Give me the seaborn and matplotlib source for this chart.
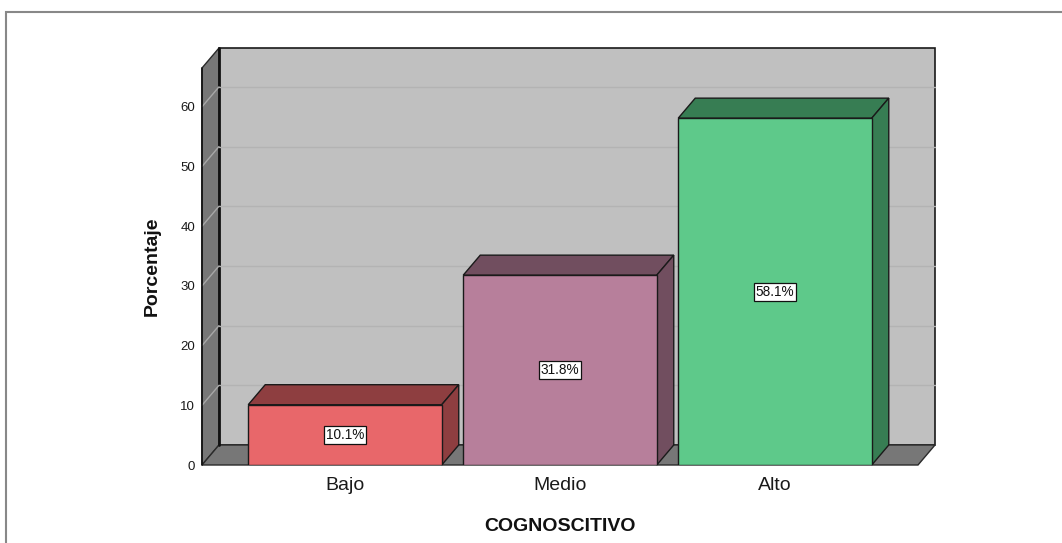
import matplotlib
matplotlib.use("Agg")
import matplotlib.pyplot as plt
import seaborn as sns
from matplotlib.patches import Polygon, Rectangle

# Data
categories = ["Bajo", "Medio", "Alto"]
percentages = [10.1, 31.8, 58.1]
bar_labels = ["10.1%", "31.8%", "58.1%"]
yticks = [0, 10, 20, 30, 40, 50, 60]

front_colors = ["#e8676a", "#b77f9b", "#5ec98a"]
dark_colors = ["#8e3e40", "#714e5f", "#377d53"]

sns.set_style("white")
plt.rcParams["font.family"] = ["Liberation Sans", "DejaVu Sans"]

fig = plt.figure(figsize=(10.62, 5.43), dpi=100)
W, H = 1062, 543
# front plane of the chart in pixels
left, right, bottom, top = 202, 918, 465, 68
ax = fig.add_axes([left / W, 1 - bottom / H, (right - left) / W, (bottom - top) / H])

xmin, xmax = -0.665, 2.665
ymin, ymax = 0, 66.5
dx = 17 / ((right - left) / (xmax - xmin))
dy = 20 / ((bottom - top) / (ymax - ymin))

# bars (front faces)
sns.barplot(x=categories, y=percentages, hue=categories, palette=front_colors,
            width=0.9, edgecolor="#1a1a1a", linewidth=1.0, legend=False, saturation=1, ax=ax)
bars = sorted([p for p in ax.patches if isinstance(p, Rectangle)], key=lambda r: r.get_x())

ax.set_xlim(xmin, xmax)
ax.set_ylim(ymin, ymax)
ax.patch.set_visible(False)
for s in ax.spines.values():
    s.set_visible(False)

# walls
back = Polygon([(xmin + dx, dy), (xmax + dx, dy), (xmax + dx, ymax + dy), (xmin + dx, ymax + dy)],
               closed=True, facecolor="#c0c0c0", edgecolor="#1a1a1a", lw=1.2, zorder=0.2, clip_on=False)
side = Polygon([(xmin, 0), (xmin + dx, dy), (xmin + dx, ymax + dy), (xmin, ymax)],
               closed=True, facecolor="#777777", edgecolor="#2a2a2a", lw=1.0, zorder=0.3, clip_on=False)
floor = Polygon([(xmin, 0), (xmax, 0), (xmax + dx, dy), (xmin + dx, dy)],
                closed=True, facecolor="#777777", edgecolor="#2a2a2a", lw=1.0, zorder=0.3, clip_on=False)
for p in (back, side, floor):
    ax.add_patch(p)
ax.plot([xmin + dx, xmin + dx], [dy, ymax + dy], color="#111111", lw=2, zorder=0.35, clip_on=False)

# gridlines
for v in yticks[1:]:
    ax.plot([xmin + dx, xmax + dx], [v + dy, v + dy], color="#b3b3b3", lw=1, zorder=0.4, clip_on=False)
    ax.plot([xmin, xmin + dx], [v, v + dy], color="#a8a8a8", lw=1, zorder=0.4, clip_on=False)

for bar, dark, lab in zip(bars, dark_colors, bar_labels):
    bar.set_zorder(2)
    xl = bar.get_x()
    xr = xl + bar.get_width()
    h = bar.get_height()
    topf = Polygon([(xl, h), (xr, h), (xr + dx, h + dy), (xl + dx, h + dy)], closed=True,
                   facecolor=dark, edgecolor="#1a1a1a", lw=1.0, zorder=1.9, clip_on=False)
    sidef = Polygon([(xr, 0), (xr + dx, dy), (xr + dx, h + dy), (xr, h)], closed=True,
                    facecolor=dark, edgecolor="#1a1a1a", lw=1.0, zorder=1.9, clip_on=False)
    ax.add_patch(topf)
    ax.add_patch(sidef)
    ax.text(xl + bar.get_width() / 2, h / 2, lab, ha="center", va="center", fontsize=9.8,
            color="#111111", zorder=3,
            bbox=dict(boxstyle="square,pad=0.15", facecolor="white", edgecolor="#111111", lw=0.9))

ax.plot([xmin, xmin], [0, ymax], color="#111111", lw=1.2, zorder=0.5, clip_on=False)

ax.set_yticks(yticks)
ax.set_yticklabels([str(v) for v in yticks], fontsize=9.5, color="#1a1a1a")
ax.tick_params(axis="y", length=0, pad=5)
ax.tick_params(axis="x", length=0, pad=9, labelsize=14, labelcolor="#1a1a1a")
ax.set_xlabel("COGNOSCITIVO", fontsize=14, fontweight="bold", labelpad=17, color="#111111")
ax.set_ylabel("Porcentaje", fontsize=14, fontweight="bold", labelpad=14, color="#111111")

# outer frame
fig.add_artist(Rectangle((6 / W, -0.05), 1.2, 1 - 12 / H + 0.05, transform=fig.transFigure,
                         fill=False, edgecolor="#888888", lw=1.5))

fig.savefig("out.png", dpi=100)
